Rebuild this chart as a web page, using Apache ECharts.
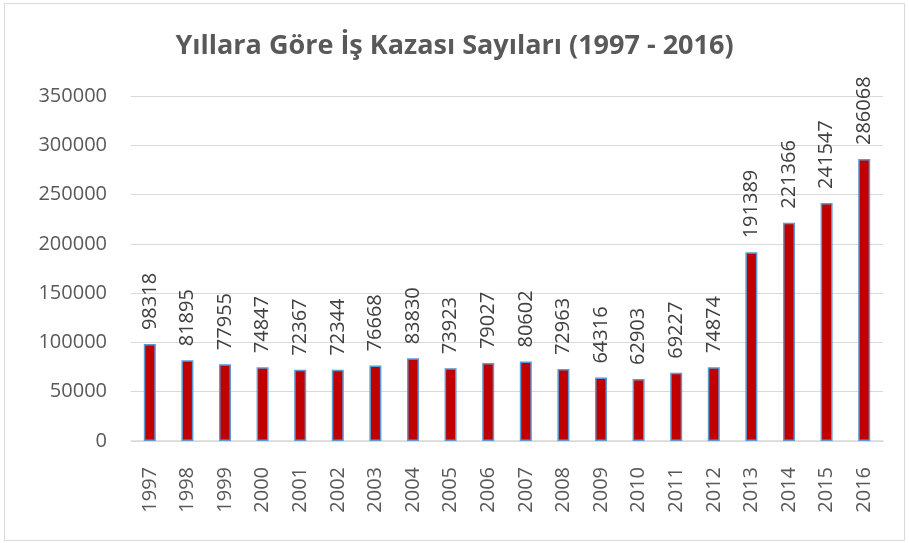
<!DOCTYPE html>
<html>
<head>
<meta charset="utf-8">
<script src="https://cdn.jsdelivr.net/npm/echarts@6/dist/echarts.min.js"></script>
<style>
  html, body { margin: 0; padding: 0; background: #ffffff; }
  #chart { width: 909px; height: 543px; }
</style>
</head>
<body>
<div id="chart"></div>
<script>
// Yearly occupational accident counts, 1997-2016
const years = ['1997','1998','1999','2000','2001','2002','2003','2004','2005','2006',
               '2007','2008','2009','2010','2011','2012','2013','2014','2015','2016'];
const accidents = [98318, 81895, 77955, 74847, 72367, 72344, 76668, 83830, 73923, 79027,
                   80602, 72963, 64316, 62903, 69227, 74874, 191389, 221366, 241547, 286068];
const titleText = 'Yıllara Göre İş Kazası Sayıları (1997 - 2016)';

const font = '"Open Sans", "Liberation Sans", sans-serif';
const chart = echarts.init(document.getElementById('chart'));
chart.setOption({
  animation: false,
  backgroundColor: '#ffffff',
  graphic: [{
    type: 'rect',
    shape: { x: 4.5, y: 3.5, width: 900, height: 537 },
    style: { fill: 'none', stroke: '#d9d9d9', lineWidth: 1 },
    silent: true
  }],
  title: {
    text: titleText,
    left: 'center',
    top: 28,
    textStyle: { fontFamily: font, fontSize: 27, fontWeight: 'bold', color: '#595959' }
  },
  grid: { left: 131, right: 26, top: 96, bottom: 102, containLabel: false },
  xAxis: {
    type: 'category',
    data: years,
    axisLine: { lineStyle: { color: '#d9d9d9', width: 1.5 } },
    axisTick: { show: false },
    axisLabel: {
      rotate: 90, interval: 0, margin: 26,
      fontFamily: font, fontSize: 20, color: '#595959'
    }
  },
  yAxis: {
    type: 'value',
    min: 0, max: 350000, interval: 50000,
    axisLine: { show: false },
    axisTick: { show: false },
    splitLine: { lineStyle: { color: '#d9d9d9', width: 1 } },
    axisLabel: {
      margin: 24, fontFamily: font, fontSize: 20, color: '#595959',
      formatter: v => String(v)
    }
  },
  series: [{
    type: 'bar',
    data: accidents,
    barWidth: 12,
    itemStyle: { color: '#c00000', borderColor: '#5b9bd5', borderWidth: 1.5 },
    label: {
      show: true,
      position: 'top',
      rotate: 90,
      align: 'left',
      verticalAlign: 'middle',
      distance: 14,
      fontFamily: font, fontSize: 20, color: '#404040'
    }
  }]
});
</script>
</body>
</html>
